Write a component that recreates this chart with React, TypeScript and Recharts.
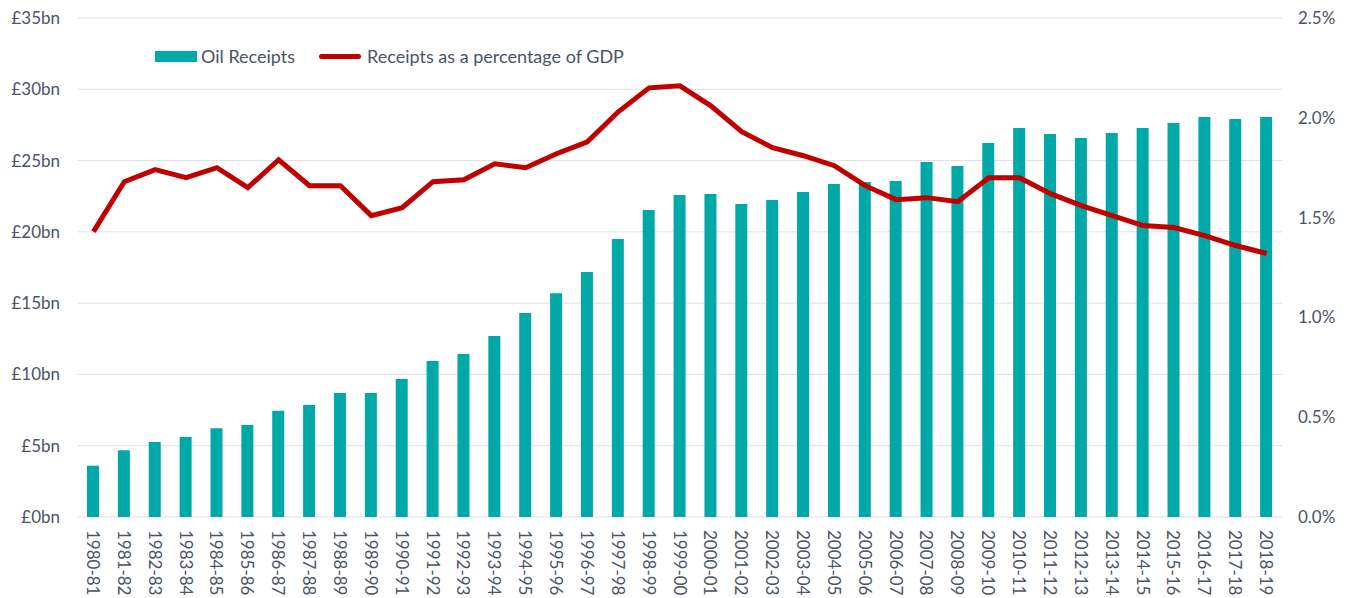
import React from 'react';
import { ComposedChart, Bar, Line, XAxis, YAxis, CartesianGrid } from 'recharts';

const years = [
  '1980-81', '1981-82', '1982-83', '1983-84', '1984-85', '1985-86', '1986-87', '1987-88', '1988-89', '1989-90',
  '1990-91', '1991-92', '1992-93', '1993-94', '1994-95', '1995-96', '1996-97', '1997-98', '1998-99', '1999-00',
  '2000-01', '2001-02', '2002-03', '2003-04', '2004-05', '2005-06', '2006-07', '2007-08', '2008-09', '2009-10',
  '2010-11', '2011-12', '2012-13', '2013-14', '2014-15', '2015-16', '2016-17', '2017-18', '2018-19',
];

// £bn
const oilReceipts = [
  3.6, 4.68, 5.26, 5.61, 6.22, 6.45, 7.46, 7.86, 8.7, 8.7,
  9.68, 10.94, 11.43, 12.7, 14.3, 15.7, 17.18, 19.5, 21.53, 22.58,
  22.65, 21.95, 22.23, 22.8, 23.36, 23.5, 23.57, 24.9, 24.62, 26.23,
  27.28, 26.86, 26.58, 26.93, 27.28, 27.63, 28.06, 27.92, 28.06,
];

// % of GDP
const pctOfGdp = [
  1.43, 1.68, 1.74, 1.70, 1.75, 1.65, 1.79, 1.66, 1.66, 1.51,
  1.55, 1.68, 1.69, 1.77, 1.75, 1.82, 1.88, 2.03, 2.15, 2.16,
  2.06, 1.93, 1.85, 1.81, 1.76, 1.66, 1.59, 1.60, 1.58, 1.70,
  1.70, 1.62, 1.56, 1.51, 1.46, 1.45, 1.41, 1.36, 1.32,
];

const leftTicks = [0, 5, 10, 15, 20, 25, 30, 35];
const rightTicks = [0, 0.5, 1, 1.5, 2, 2.5];

const data = years.map((y, i) => ({ year: y, oil: oilReceipts[i], pct: pctOfGdp[i] }));

const TEAL = '#00A9A8';
const RED = '#C00000';
const TEXT = '#4A5468';
const FONT = 'Lato, "Open Sans", sans-serif';

const YearTick = (props: any) => {
  const { x, y, payload } = props;
  return (
    <g transform={`translate(${x},${y})`}>
      <text transform="rotate(90)" x={5} y={0} textAnchor="start" dominantBaseline="central"
        fill={TEXT} fontSize={17} fontFamily={FONT}>
        {payload.value}
      </text>
    </g>
  );
};

export default function App() {
  return (
    <div style={{ position: 'relative', width: 1353, height: 598, background: '#fff' }}>
      <style>{`body{margin:0}`}</style>
      <ComposedChart width={1353} height={598} data={data} margin={{ top: 18, right: 0, bottom: 0, left: 0 }}>
        <CartesianGrid yAxisId="left" vertical={false} stroke="#DCDFE6" />
        <XAxis dataKey="year" interval={0} height={81} tickLine={false} axisLine={false} tick={<YearTick />} />
        <YAxis yAxisId="left" domain={[0, 35]} ticks={leftTicks} width={78} tickLine={false} axisLine={false}
          tickMargin={12} tickFormatter={(v: number) => `£${v}bn`}
          tick={{ fill: TEXT, fontSize: 17, fontFamily: FONT }} />
        <YAxis yAxisId="right" orientation="right" domain={[0, 2.5]} ticks={rightTicks} width={71} tickLine={false}
          axisLine={false} tickMargin={10} tickFormatter={(v: number) => `${v.toFixed(1)}%`}
          tick={{ fill: TEXT, fontSize: 17, fontFamily: FONT, textAnchor: 'start' }} />
        <Bar yAxisId="left" dataKey="oil" name="Oil Receipts" fill={TEAL} barSize={12} isAnimationActive={false} />
        <Line yAxisId="right" dataKey="pct" name="Receipts as a percentage of GDP" stroke={RED} strokeWidth={5}
          dot={false} type="linear" isAnimationActive={false} />
      </ComposedChart>
      <div style={{ position: 'absolute', top: 45, left: 155, display: 'flex', alignItems: 'center',
        fontFamily: FONT, fontSize: 18, color: TEXT, whiteSpace: 'nowrap' }}>
        <span style={{ display: 'inline-block', width: 42, height: 11, background: TEAL, marginRight: 4 }} />
        <span>Oil Receipts</span>
        <span style={{ display: 'inline-block', width: 42, height: 5, borderRadius: 3, background: RED, marginLeft: 24, marginRight: 6 }} />
        <span>Receipts as a percentage of GDP</span>
      </div>
    </div>
  );
}
